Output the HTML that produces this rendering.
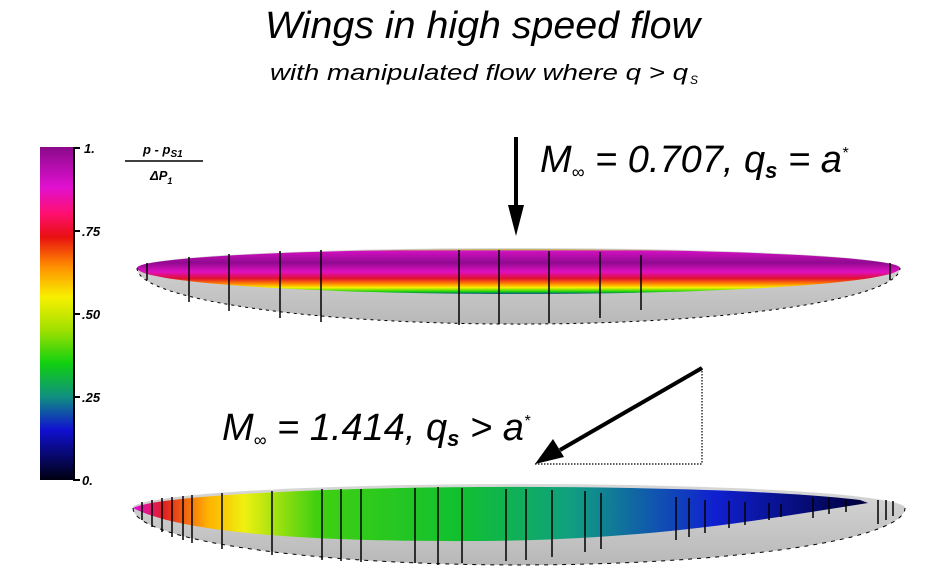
<!DOCTYPE html>
<html><head><meta charset="utf-8"><style>
html,body{margin:0;padding:0;background:#fff;}
svg{display:block;}
text{font-family:"Liberation Sans",sans-serif;font-style:italic;fill:#000;}
</style></head><body>
<svg width="944" height="586" viewBox="0 0 944 586" xmlns="http://www.w3.org/2000/svg">
<defs>
<linearGradient id="cb" x1="0" y1="0" x2="0" y2="1">
<stop offset="0" stop-color="#8a0a8a"/>
<stop offset="0.12" stop-color="#e010d0"/>
<stop offset="0.2" stop-color="#ff1070"/>
<stop offset="0.27" stop-color="#e81010"/>
<stop offset="0.36" stop-color="#ff9000"/>
<stop offset="0.45" stop-color="#f8f000"/>
<stop offset="0.55" stop-color="#a0e000"/>
<stop offset="0.65" stop-color="#10d010"/>
<stop offset="0.75" stop-color="#109080"/>
<stop offset="0.85" stop-color="#1010d0"/>
<stop offset="1" stop-color="#000010"/>
</linearGradient>
<linearGradient id="w1" x1="0" y1="249" x2="0" y2="295" gradientUnits="userSpaceOnUse">
<stop offset="0" stop-color="#c0e040"/>
<stop offset="0.05" stop-color="#d010c0"/>
<stop offset="0.3" stop-color="#900a90"/>
<stop offset="0.5" stop-color="#e010c0"/>
<stop offset="0.64" stop-color="#e01030"/>
<stop offset="0.75" stop-color="#ff8000"/>
<stop offset="0.84" stop-color="#f8f000"/>
<stop offset="0.93" stop-color="#10d010"/>
<stop offset="1" stop-color="#1010c0"/>
</linearGradient>
<linearGradient id="w2" x1="135" y1="0" x2="860" y2="0" gradientUnits="userSpaceOnUse">
<stop offset="0" stop-color="#e010d0"/>
<stop offset="0.04" stop-color="#e02020"/>
<stop offset="0.1" stop-color="#ffb000"/>
<stop offset="0.15" stop-color="#f0f010"/>
<stop offset="0.25" stop-color="#40d010"/>
<stop offset="0.45" stop-color="#10c030"/>
<stop offset="0.6" stop-color="#10a080"/>
<stop offset="0.8" stop-color="#1020d0"/>
<stop offset="1" stop-color="#000040"/>
</linearGradient>
<linearGradient id="gr" x1="0" y1="0" x2="0" y2="1">
<stop offset="0" stop-color="#d8d8d8"/><stop offset="1" stop-color="#b8b8b8"/>
</linearGradient>
</defs>

<text x="265" y="38" font-size="38" textLength="435" lengthAdjust="spacingAndGlyphs">Wings in high speed flow</text>
<text x="270" y="80" font-size="22" textLength="418" lengthAdjust="spacingAndGlyphs">with manipulated flow where q &gt; q</text>
<text x="690" y="84" font-size="12">S</text>

<!-- colorbar -->
<rect x="40" y="147" width="34" height="333" fill="url(#cb)"/>
<line x1="74" y1="147" x2="74" y2="481" stroke="#000" stroke-width="2"/>
<g stroke="#000" stroke-width="2">
<line x1="74" y1="148" x2="80" y2="148"/><line x1="74" y1="231" x2="80" y2="231"/>
<line x1="74" y1="314" x2="80" y2="314"/><line x1="74" y1="397" x2="80" y2="397"/>
<line x1="74" y1="480" x2="80" y2="480"/>
</g>
<g font-size="13" font-weight="bold">
<text x="84" y="153">1.</text><text x="82" y="236">.75</text>
<text x="82" y="319">.50</text><text x="82" y="402">.25</text>
<text x="82" y="485">0.</text>
</g>
<text x="143" y="154" font-size="13" font-weight="bold">p - p<tspan font-size="10" dy="3">S1</tspan></text>
<line x1="125" y1="161" x2="203" y2="161" stroke="#000" stroke-width="1.5"/>
<text x="150" y="180" font-size="13" font-weight="bold">ΔP<tspan font-size="9" dy="4">1</tspan></text>

<!-- top arrow -->
<line x1="516" y1="137" x2="516" y2="210" stroke="#000" stroke-width="4"/>
<polygon points="508,205 524,205 516,236" fill="#000"/>
<text x="540" y="172" font-size="38">M<tspan font-size="18" dy="6">∞</tspan><tspan dy="-6"> = 0.707, q</tspan><tspan font-size="22" dy="6" font-weight="bold">s</tspan><tspan dy="-6"> = a</tspan><tspan font-size="16" dy="-14">*</tspan></text>

<!-- top wing -->
<path d="M137,268 A381,20 0 0 1 900,268 A381,56 0 0 1 137,268 Z" fill="url(#gr)"/>
<path d="M137,268 A381,19 0 0 1 900,268 A381,26 0 0 1 137,268 Z" fill="url(#w1)"/>
<path d="M137,268 A381,56 0 0 0 900,268" fill="none" stroke="#000" stroke-width="1" stroke-dasharray="3,4"/>
<g stroke="#000" stroke-width="1.5">
<line x1="147" y1="263" x2="147" y2="280"/>
<line x1="189" y1="257" x2="189" y2="302"/>
<line x1="229" y1="254" x2="229" y2="311"/>
<line x1="280" y1="251" x2="280" y2="318"/>
<line x1="321" y1="250" x2="321" y2="322"/>
<line x1="459" y1="250" x2="459" y2="325"/>
<line x1="499" y1="250" x2="499" y2="324"/>
<line x1="549" y1="251" x2="549" y2="323"/>
<line x1="600" y1="252" x2="600" y2="318"/>
<line x1="641" y1="255" x2="641" y2="310"/>
<line x1="890" y1="263" x2="890" y2="280"/>
</g>

<!-- second arrow -->
<g stroke="#000" stroke-width="1.2" stroke-dasharray="1.5,1.5" fill="none">
<line x1="702" y1="368" x2="702" y2="464"/>
<line x1="535" y1="464" x2="702" y2="464"/>
</g>
<line x1="702" y1="368" x2="560" y2="450" stroke="#000" stroke-width="4"/>
<polygon points="535,464 553,439 564,457" fill="#000"/>
<text x="222" y="440" font-size="38">M<tspan font-size="18" dy="6">∞</tspan><tspan dy="-6"> = 1.414, q</tspan><tspan font-size="22" dy="6" font-weight="bold">s</tspan><tspan dy="-6"> &gt; a</tspan><tspan font-size="16" dy="-14">*</tspan></text>

<!-- bottom wing -->
<path d="M133,508 A386,24 0 0 1 905,508 A386,57 0 0 1 133,508 Z" fill="url(#gr)"/>
<path d="M133,508 A386,24 0 0 1 860,500 L868,503 C760,520 650,540 480,541 C300,542 180,532 133,508 Z" fill="url(#w2)"/>
<path d="M133,508 A386,57 0 0 0 905,508" fill="none" stroke="#000" stroke-width="1" stroke-dasharray="4,5"/>
<g stroke="#000" stroke-width="1.5">
<line x1="142" y1="502" x2="142" y2="520"/>
<line x1="152" y1="500" x2="152" y2="527"/>
<line x1="162" y1="498" x2="162" y2="532"/>
<line x1="172" y1="497" x2="172" y2="537"/>
<line x1="183" y1="496" x2="183" y2="540"/>
<line x1="192" y1="495" x2="192" y2="543"/>
<line x1="222" y1="493" x2="222" y2="549"/>
<line x1="272" y1="491" x2="272" y2="555"/>
<line x1="322" y1="489" x2="322" y2="560"/>
<line x1="341" y1="489" x2="341" y2="561"/>
<line x1="361" y1="489" x2="361" y2="562"/>
<line x1="415" y1="488" x2="415" y2="563"/>
<line x1="438" y1="487" x2="438" y2="565"/>
<line x1="462" y1="488" x2="462" y2="563"/>
<line x1="506" y1="489" x2="506" y2="561"/>
<line x1="526" y1="489" x2="526" y2="560"/>
<line x1="552" y1="490" x2="552" y2="557"/>
<line x1="585" y1="491" x2="585" y2="552"/>
<line x1="601" y1="493" x2="601" y2="549"/>
<line x1="676" y1="497" x2="676" y2="540"/>
<line x1="689" y1="498" x2="689" y2="537"/>
<line x1="705" y1="500" x2="705" y2="533"/>
<line x1="729" y1="501" x2="729" y2="528"/>
<line x1="745" y1="502" x2="745" y2="525"/>
<line x1="769" y1="503" x2="769" y2="520"/>
<line x1="781" y1="504" x2="781" y2="517"/>
<line x1="813" y1="498" x2="813" y2="518"/>
<line x1="829" y1="498" x2="829" y2="514"/>
<line x1="846" y1="500" x2="846" y2="512"/>
<line x1="878" y1="500" x2="878" y2="524"/>
<line x1="886" y1="500" x2="886" y2="520"/>
<line x1="893" y1="501" x2="893" y2="516"/>
</g>
</svg>
</body></html>
